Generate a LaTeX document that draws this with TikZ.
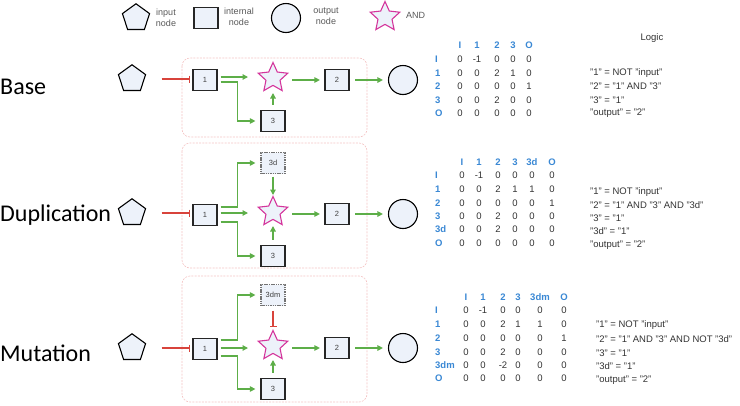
\documentclass[tikz,border=0pt]{standalone}
\usepackage{fontspec}
\setmainfont{Liberation Sans}
\newfontfamily\calfont{Carlito}
\usetikzlibrary{shapes.geometric,arrows.meta,calc}
\definecolor{nfill}{HTML}{EDF2FA}
\definecolor{gcol}{HTML}{5DAE48}
\definecolor{rcol}{HTML}{D8433B}
\definecolor{starc}{HTML}{D4369C}
\definecolor{grpc}{HTML}{F4C4C4}
\definecolor{bluec}{HTML}{3A88D4}
\newcommand\matrow[5]{%
  \node[rlab] (#1-lab) at (435,#2) {#3};
  \foreach \v [count=\c] in {#5} {
    \pgfmathsetmacro\xx{{#4}[\c-1]}
    \node[cell] (#1-\c) at (\xx,#2) {\v};
  }
}
\newcommand\mathead[4]{%
  \foreach \v [count=\c] in {#4} {
    \pgfmathsetmacro\xx{{#3}[\c-1]}
    \node[hd] (#1-\c) at (\xx,#2) {\v};
  }
}
\begin{document}
\begin{tikzpicture}[x=1pt,y=-1pt,
  pent/.style={regular polygon, regular polygon sides=5, minimum size=28.5pt, inner sep=0pt, draw=black, line width=1.1pt, fill=nfill},
  inode/.style={rectangle, minimum width=24pt, minimum height=21pt, inner sep=0pt, draw=black!85, line width=1.2pt, fill=nfill, font=\fontsize{7.5}{8}\selectfont, text=black!75},
  dnode/.style={inode, draw=black!55, dash pattern=on 1.5pt off 0.8pt},
  onode/.style={circle, minimum size=29pt, inner sep=0pt, draw=black, line width=1.1pt, fill=nfill},
  andnode/.style={star, star points=5, star point ratio=2.1, minimum size=31pt, inner sep=0pt, draw=starc, line width=1.1pt, fill=nfill},
  grp/.style={draw=grpc, dash pattern=on 2pt off 1.2pt, rounded corners=8pt, line width=0.6pt},
  ga/.style={draw=gcol, line width=1.2pt, -{Triangle[length=5.5pt,width=5.5pt]}},
  inh/.style={draw=rcol, line width=1.2pt, -{Bar[width=7pt,line width=1.2pt]}},
  rowtitle/.style={font=\calfont\fontsize{24}{28}\selectfont, anchor=west, inner sep=0pt},
  leg/.style={font=\fontsize{9}{11}\selectfont, text=black!65, align=center, inner sep=0pt},
  cell/.style={font=\fontsize{9.5}{11}\selectfont, text=black!80, inner sep=0pt},
  hd/.style={font=\fontsize{9.5}{11}\selectfont\bfseries, text=bluec, inner sep=0pt},
  rlab/.style={hd, anchor=west},
  logic/.style={font=\fontsize{9.5}{11}\selectfont, text=black!80, anchor=west, inner sep=0pt}
]
\useasboundingbox (0,0) rectangle (740,405);

% ---------------- legend
\node[pent] (lp) at (136,18) {};
\node[leg] (lpt) at (166,18) {input\\node};
\node[inode] (lb) at (206,18) {};
\node[leg] (lbt) at (239,17) {internal\\node};
\node[onode] (lo) at (286,18) {};
\node[leg] (lot) at (326,16) {output\\node};
\node[andnode] (ls) at (385,17) {};
\node[leg, anchor=west] (lst) at (406,15) {AND};

% ---------------- row titles
\node[rowtitle] (tb) at (0,87) {Base};
\node[rowtitle] (td) at (0,215) {Duplication};
\node[rowtitle] (tm) at (0,353) {Mutation};

% ---------------- Base
\draw[grp] (182,58) rectangle (367,137);
\node[pent] (bp) at (132,79) {};
\node[inode] (b1) at (205,80) {1};
\node[andnode] (bs) at (273,78) {};
\node[inode] (b2) at (337,80) {2};
\node[onode] (bo) at (403,80) {};
\node[inode] (b3) at (273,121) {3};
\draw[inh, shorten <=17pt, shorten >=2pt] (bp) -- (bp -| b1.west);
\draw[ga, shorten <=3pt, shorten >=25pt] ([yshift=3pt]b1.east) -- ([yshift=3pt]b1.east -| bs.center);
\draw[ga, shorten <=3pt, shorten >=5pt] ([yshift=-2pt]b1.east) -- ++(20,0) |- (b3.west);
\draw[ga, shorten <=5pt, shorten >=15pt] (b3.north) -- (bs.center);
\draw[ga, shorten <=19pt, shorten >=4.5pt] (bs.center |- b2) -- (b2.west);
\draw[ga, shorten <=5.5pt, shorten >=5pt] (b2.east) -- (bo.west);

% ---------------- Duplication
\draw[grp] (182,143) rectangle (367,268);
\node[pent] (dp) at (132,213) {};
\node[inode] (d1) at (205,215) {1};
\node[andnode] (ds) at (273,212) {};
\node[inode] (d2) at (337,214) {2};
\node[onode] (do) at (403,214) {};
\node[dnode] (d3d) at (273,163) {3d};
\node[inode] (d3) at (273,256) {3};
\draw[inh, shorten <=17pt, shorten >=2pt] (dp) -- (dp -| d1.west);
\draw[ga, shorten <=3pt, shorten >=5pt] ([yshift=8pt]d1.east) -- ++(20,0) |- (d3d.west);
\draw[ga, shorten <=3pt, shorten >=25pt] ([yshift=2pt]d1.east) -- ([yshift=2pt]d1.east -| ds.center);
\draw[ga, shorten <=3pt, shorten >=5pt] ([yshift=-7pt]d1.east) -- ++(20,0) |- (d3.west);
\draw[ga, shorten <=2.5pt, shorten >=17pt] (d3d.south) -- (ds.center);
\draw[ga, shorten <=5pt, shorten >=14pt] (d3.north) -- (ds.center);
\draw[ga, shorten <=19pt, shorten >=4.5pt] (ds.center |- d2) -- (d2.west);
\draw[ga, shorten <=5.5pt, shorten >=5pt] (d2.east) -- (do.west);

% ---------------- Mutation
\draw[grp] (182,276) rectangle (367,402);
\node[pent] (mp) at (132,348) {};
\node[inode] (m1) at (205,349) {1};
\node[andnode] (ms) at (273,346) {};
\node[inode] (m2) at (337,348) {2};
\node[onode] (mo) at (403,348) {};
\node[dnode] (m3d) at (273,295) {3dm};
\node[inode] (m3) at (273,389) {3};
\draw[inh, shorten <=17pt, shorten >=2pt] (mp) -- (mp -| m1.west);
\draw[ga, shorten <=3pt, shorten >=5pt] ([yshift=9pt]m1.east) -- ++(20,0) |- (m3d.west);
\draw[ga, shorten <=3pt, shorten >=25pt] ([yshift=1pt]m1.east) -- ([yshift=1pt]m1.east -| ms.center);
\draw[ga, shorten <=3pt, shorten >=5pt] ([yshift=-7pt]m1.east) -- ++(20,0) |- (m3.west);
\draw[inh, shorten <=4.5pt, shorten >=19pt] (m3d.south) -- (ms.center);
\draw[ga, shorten <=5pt, shorten >=14pt] (m3.north) -- (ms.center);
\draw[ga, shorten <=19pt, shorten >=4.5pt] (ms.center |- m2) -- (m2.west);
\draw[ga, shorten <=5.5pt, shorten >=5pt] (m2.east) -- (mo.west);

% ---------------- Base matrix
\mathead{bh}{45}{460,477,497,513,529}{I,1,2,3,O}
\matrow{bmI}{59}{I}{460,477,497,513,529}{0,-1,0,0,0}
\matrow{bm1}{73}{1}{460,477,497,513,529}{0,0,2,1,0}
\matrow{bm2}{86}{2}{460,477,497,513,529}{0,0,0,0,1}
\matrow{bm3}{100}{3}{460,477,497,513,529}{0,0,2,0,0}
\matrow{bmO}{113}{O}{460,477,497,513,529}{0,0,0,0,0}
\node[cell] (logict) at (652,38) {Logic};
\node[logic] (bl1) at (590,73) {"1" = NOT "input"};
\node[logic] (bl2) at (590,86) {"2" = "1" AND "3"};
\node[logic] (bl3) at (590,100) {"3" = "1"};
\node[logic] (bl4) at (590,113) {"output" = "2"};

% ---------------- Duplication matrix
\mathead{dh}{162}{462,479,498,515,532,552}{I,1,2,3,3d,O}
\matrow{dmI}{175}{I}{462,479,498,515,532,552}{0,-1,0,0,0,0}
\matrow{dm1}{189}{1}{462,479,498,515,532,552}{0,0,2,1,1,0}
\matrow{dm2}{203}{2}{462,479,498,515,532,552}{0,0,0,0,0,1}
\matrow{dm3}{216}{3}{462,479,498,515,532,552}{0,0,2,0,0,0}
\matrow{dm3d}{229}{3d}{462,479,498,515,532,552}{0,0,2,0,0,0}
\matrow{dmO}{243}{O}{462,479,498,515,532,552}{0,0,0,0,0,0}
\node[logic] (dl1) at (590,192) {"1" = NOT "input"};
\node[logic] (dl2) at (590,205) {"2" = "1" AND "3" AND "3d"};
\node[logic] (dl3) at (590,218) {"3" = "1"};
\node[logic] (dl4) at (590,231) {"3d" = "1"};
\node[logic] (dl5) at (590,245) {"output" = "2"};

% ---------------- Mutation matrix
\mathead{mh}{297}{466,483,503,518,540,564}{I,1,2,3,3dm,O}
\matrow{mmI}{310}{I}{466,483,503,518,540,564}{0,-1,0,0,0,0}
\matrow{mm1}{324}{1}{466,483,503,518,540,564}{0,0,2,1,1,0}
\matrow{mm2}{338}{2}{466,483,503,518,540,564}{0,0,0,0,0,1}
\matrow{mm3}{352}{3}{466,483,503,518,540,564}{0,0,2,0,0,0}
\matrow{mm3d}{365}{3dm}{466,483,503,518,540,564}{0,0,-2,0,0,0}
\matrow{mmO}{378}{O}{466,483,503,518,540,564}{0,0,0,0,0,0}
\node[logic] (ml1) at (596,325) {"1" = NOT "input"};
\node[logic] (ml2) at (596,339) {"2" = "1" AND "3" AND NOT "3d"};
\node[logic] (ml3) at (596,353) {"3" = "1"};
\node[logic] (ml4) at (596,366) {"3d" = "1"};
\node[logic] (ml5) at (596,380) {"output" = "2"};
\end{tikzpicture}
\end{document}
